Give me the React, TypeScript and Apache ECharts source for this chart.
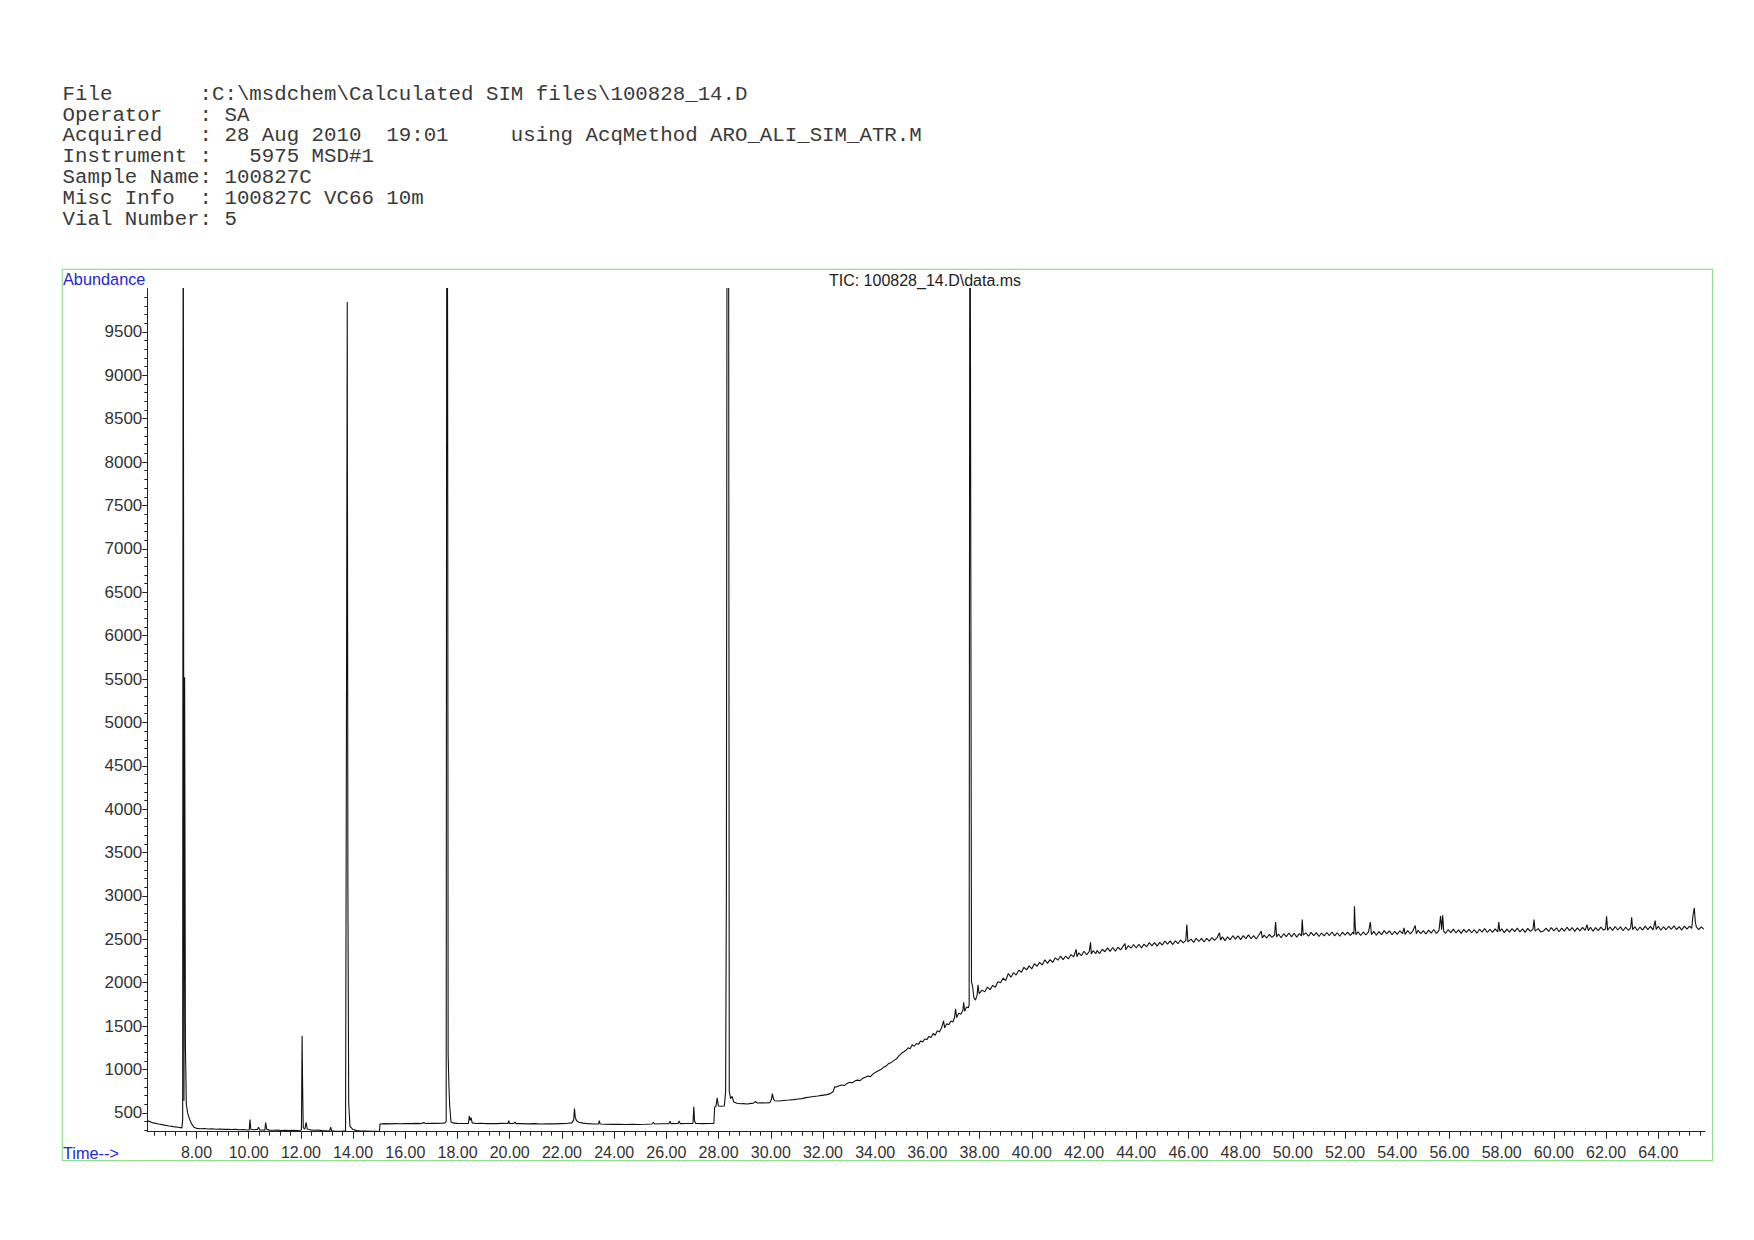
import React, { useEffect, useRef } from "react";
import * as echarts from "echarts";

// ---------- header text ----------
const headerLines: string[] = [
  "File       :C:\\msdchem\\Calculated SIM files\\100828_14.D",
  "Operator   : SA",
  "Acquired   : 28 Aug 2010  19:01     using AcqMethod ARO_ALI_SIM_ATR.M",
  "Instrument :   5975 MSD#1",
  "Sample Name: 100827C",
  "Misc Info  : 100827C VC66 10m",
  "Vial Number: 5",
];
const chartTitle = "TIC: 100828_14.D\\data.ms";
const yAxisName = "Abundance";
const xAxisName = "Time-->";

// ---------- axes ----------
const X_MIN = 6.115;
const X_MAX = 65.79;
const Y_MIN = 283.5;
const Y_MAX = 10000;
const majorTimes = [8, 10, 12, 14, 16, 18, 20, 22, 24, 26, 28, 30, 32, 34, 36, 38, 40, 42, 44, 46, 48, 50, 52, 54, 56, 58, 60, 62, 64];
const minorTimes = [
  6.4, 6.8, 7.2, 7.6, 8.4, 8.8, 9.2, 9.6, 10.4, 10.8, 11.2, 11.6, 12.4, 12.8, 13.2, 13.6, 14.4, 14.8, 15.2, 15.6,
  16.4, 16.8, 17.2, 17.6, 18.4, 18.8, 19.2, 19.6, 20.4, 20.8, 21.2, 21.6, 22.4, 22.8, 23.2, 23.6, 24.4, 24.8, 25.2, 25.6,
  26.4, 26.8, 27.2, 27.6, 28.4, 28.8, 29.2, 29.6, 30.4, 30.8, 31.2, 31.6, 32.4, 32.8, 33.2, 33.6, 34.4, 34.8, 35.2, 35.6,
  36.4, 36.8, 37.2, 37.6, 38.4, 38.8, 39.2, 39.6, 40.4, 40.8, 41.2, 41.6, 42.4, 42.8, 43.2, 43.6, 44.4, 44.8, 45.2, 45.6,
  46.4, 46.8, 47.2, 47.6, 48.4, 48.8, 49.2, 49.6, 50.4, 50.8, 51.2, 51.6, 52.4, 52.8, 53.2, 53.6, 54.4, 54.8, 55.2, 55.6,
  56.4, 56.8, 57.2, 57.6, 58.4, 58.8, 59.2, 59.6, 60.4, 60.8, 61.2, 61.6, 62.4, 62.8, 63.2, 63.6, 64.4, 64.8, 65.2, 65.6,
];
const majorAbundance = [500, 1000, 1500, 2000, 2500, 3000, 3500, 4000, 4500, 5000, 5500, 6000, 6500, 7000, 7500, 8000, 8500, 9000, 9500];
const minorAbundance = [
  300, 400, 600, 700, 800, 900, 1100, 1200, 1300, 1400, 1600, 1700, 1800, 1900, 2100, 2200, 2300, 2400,
  2600, 2700, 2800, 2900, 3100, 3200, 3300, 3400, 3600, 3700, 3800, 3900, 4100, 4200, 4300, 4400,
  4600, 4700, 4800, 4900, 5100, 5200, 5300, 5400, 5600, 5700, 5800, 5900, 6100, 6200, 6300, 6400,
  6600, 6700, 6800, 6900, 7100, 7200, 7300, 7400, 7600, 7700, 7800, 7900, 8100, 8200, 8300, 8400,
  8600, 8700, 8800, 8900, 9100, 9200, 9300, 9400, 9600, 9700, 9800, 9900,
];

// ---------- trace: [time (min), abundance] ----------
const traceEarly: [number, number][] = [
  [6.115, 411], [6.34, 385], [6.55, 372], [6.73, 362], [6.95, 350], [7.11, 342], [7.3, 335], [7.44, 328],
  [7.47, 420], [7.49, 13000], [7.52, 640], [7.545, 5520], [7.575, 1270], [7.61, 600], [7.66, 500], [7.72, 440],
  [7.8, 380], [7.9, 335], [8.0, 322], [8.15, 318], [8.3, 320], [8.45, 315], [8.6, 317], [8.75, 312], [8.9, 314],
  [9.05, 310], [9.2, 312], [9.35, 308], [9.5, 310], [9.65, 306], [9.8, 308], [9.95, 303], [10.02, 305],
  [10.05, 425], [10.08, 312], [10.2, 306], [10.33, 310], [10.38, 335], [10.42, 305], [10.55, 303], [10.62, 302],
  [10.65, 388], [10.69, 310], [10.8, 302], [10.95, 300], [11.1, 302], [11.25, 298], [11.4, 300], [11.55, 296],
  [11.7, 299], [11.85, 297], [11.98, 300], [12.02, 305], [12.045, 1390], [12.065, 815], [12.09, 330],
  [12.15, 312], [12.2, 392], [12.24, 315], [12.35, 305], [12.5, 300], [12.65, 303], [12.8, 296], [12.95, 294],
  [13.1, 292], [13.14, 336], [13.18, 292], [13.3, 290], [13.45, 289], [13.6, 290], [13.71, 292],
  [13.745, 5000], [13.775, 9845], [13.8, 3050], [13.83, 620], [13.88, 346], [13.98, 312], [14.14, 296],
  [14.3, 292], [14.5, 290], [14.7, 288], [14.9, 287], [15.01, 286],
];

const traceMid: [number, number][] = [
  [15.03, 373], [15.2, 376], [15.4, 374], [15.6, 377], [15.8, 375], [16.0, 378], [16.2, 376], [16.4, 379],
  [16.6, 377], [16.72, 388], [16.78, 378], [17.0, 379], [17.2, 380], [17.4, 381], [17.52, 385], [17.565, 400],
  [17.59, 13000], [17.62, 9500], [17.64, 1180], [17.67, 810], [17.7, 580], [17.75, 395], [17.85, 382],
  [18.0, 380], [18.2, 378], [18.42, 380], [18.45, 465], [18.48, 415], [18.52, 445], [18.56, 385], [18.7, 378],
  [18.9, 380], [19.1, 376], [19.3, 378], [19.5, 376], [19.7, 379], [19.93, 378], [19.96, 410], [19.99, 378],
  [20.15, 380], [20.2, 395], [20.24, 377], [20.45, 376], [20.7, 374], [20.95, 376], [21.2, 373], [21.45, 375],
  [21.7, 374], [21.95, 377], [22.2, 380], [22.38, 385], [22.45, 420], [22.48, 550], [22.51, 450], [22.56, 410],
  [22.65, 392], [22.8, 382], [23.0, 376], [23.2, 373], [23.4, 372], [23.43, 410], [23.46, 373], [23.7, 370],
  [23.95, 368], [24.2, 369], [24.45, 366], [24.7, 368], [24.95, 367], [25.2, 369], [25.45, 372], [25.5, 392],
  [25.55, 373], [25.8, 375], [26.1, 377], [26.14, 403], [26.18, 377], [26.45, 378], [26.49, 408], [26.53, 377],
  [26.8, 378], [27.02, 380], [27.05, 570], [27.08, 410], [27.12, 380], [27.4, 376], [27.6, 378], [27.82, 378],
  [27.85, 565], [27.9, 575], [27.95, 675], [27.99, 580], [28.1, 577], [28.22, 580], [28.27, 740], [28.3, 3100],
  [28.33, 13000], [28.38, 13000], [28.41, 750], [28.46, 665], [28.52, 690], [28.58, 625], [28.7, 612],
  [28.85, 605], [28.95, 607], [29.1, 603], [29.25, 610], [29.34, 612], [29.41, 632], [29.48, 614], [29.65, 616],
  [29.8, 615], [29.97, 619], [30.03, 660], [30.06, 722], [30.1, 665], [30.15, 640], [30.3, 638], [30.5, 643],
  [30.7, 648], [30.87, 653], [31.05, 660], [31.2, 665], [31.35, 676], [31.51, 684], [31.65, 690], [31.8, 695],
  [31.95, 702], [32.15, 711], [32.28, 722], [32.4, 750], [32.45, 802],
];

const traceRamp: [number, number][] = [
  [32.52, 798], [32.62, 812], [32.72, 822], [32.82, 815], [32.92, 840], [33.02, 853], [33.12, 846], [33.22, 868],
  [33.32, 878], [33.42, 872], [33.52, 898], [33.62, 910], [33.72, 925], [33.82, 918], [33.92, 950], [34.02, 968],
  [34.12, 985], [34.22, 1000], [34.32, 1025], [34.42, 1040], [34.52, 1070], [34.62, 1082], [34.72, 1105],
  [34.82, 1125], [34.92, 1160], [35.02, 1190], [35.1, 1205], [35.18, 1222], [35.26, 1250], [35.34, 1238],
  [35.42, 1285], [35.5, 1268], [35.58, 1300], [35.66, 1290], [35.74, 1330], [35.82, 1318], [35.9, 1352],
  [35.98, 1345], [36.06, 1382], [36.14, 1370], [36.22, 1415], [36.3, 1395], [36.38, 1448], [36.46, 1432],
  [36.54, 1478], [36.62, 1560], [36.66, 1480], [36.74, 1528], [36.82, 1515], [36.9, 1560], [36.98, 1548],
  [37.04, 1600], [37.08, 1700], [37.12, 1598], [37.2, 1648], [37.28, 1636], [37.36, 1680], [37.39, 1775],
  [37.43, 1672], [37.5, 1720], [37.57, 1712], [37.6, 1745], [37.63, 13000], [37.66, 7450], [37.69, 2010],
  [37.73, 1960], [37.78, 1830], [37.84, 1800], [37.9, 1852], [37.94, 1975], [37.98, 1875],
];

const tracePlateau: [number, number][] = [
  [38.1, 1915], [38.2, 1895], [38.3, 1950], [38.4, 1920], [38.5, 1970], [38.6, 1948], [38.7, 2011], [38.8, 1999],
  [38.9, 2052], [39.0, 2025], [39.1, 2107], [39.2, 2064], [39.3, 2116], [39.4, 2088], [39.5, 2145], [39.6, 2121],
  [39.7, 2177], [39.8, 2148], [39.9, 2194], [40.0, 2160], [40.1, 2220], [40.2, 2190], [40.3, 2235], [40.4, 2205],
  [40.5, 2265], [40.6, 2223], [40.7, 2266], [40.8, 2234], [40.9, 2287], [41.0, 2260], [41.1, 2306], [41.2, 2267],
  [41.3, 2308], [41.4, 2274], [41.5, 2325], [41.6, 2297], [41.7, 2385], [41.73, 2300], [41.8, 2345], [41.9, 2311],
  [42.0, 2363], [42.1, 2322], [42.2, 2360], [42.25, 2466], [42.28, 2330], [42.35, 2370], [42.45, 2334],
  [42.5, 2371], [42.6, 2336], [42.7, 2386], [42.8, 2357], [42.9, 2402], [43.0, 2362], [43.1, 2406], [43.2, 2365],
  [43.3, 2409], [43.4, 2378], [43.5, 2422], [43.57, 2450], [43.6, 2381], [43.7, 2429], [43.8, 2398], [43.9, 2441],
  [44.0, 2400], [44.1, 2443], [44.2, 2402], [44.3, 2445], [44.4, 2414], [44.5, 2462], [44.6, 2425], [44.7, 2463],
  [44.8, 2422], [44.9, 2465], [45.0, 2433], [45.1, 2481], [45.2, 2444], [45.3, 2482], [45.4, 2440], [45.5, 2483],
  [45.6, 2450], [45.7, 2493], [45.8, 2460], [45.9, 2488], [45.94, 2670], [45.98, 2470], [46.1, 2502],
  [46.2, 2465], [46.3, 2512], [46.4, 2475], [46.5, 2512], [46.6, 2469], [46.7, 2511], [46.8, 2479], [46.9, 2521],
  [47.0, 2488], [47.1, 2520], [47.19, 2575], [47.23, 2490], [47.3, 2529], [47.4, 2486], [47.5, 2528],
  [47.6, 2495], [47.7, 2542], [47.8, 2503], [47.9, 2540], [48.0, 2497], [48.1, 2543], [48.2, 2509], [48.3, 2551],
  [48.4, 2507], [48.5, 2543], [48.6, 2504], [48.7, 2551], [48.79, 2595], [48.83, 2515], [48.9, 2549],
  [49.0, 2515], [49.1, 2557], [49.2, 2523], [49.3, 2550], [49.34, 2700], [49.38, 2528], [49.45, 2562],
  [49.55, 2518], [49.65, 2565], [49.75, 2531], [49.85, 2573], [49.95, 2529], [50.05, 2570], [50.15, 2526],
  [50.25, 2567], [50.33, 2540], [50.36, 2728], [50.4, 2548], [50.5, 2575], [50.6, 2536], [50.7, 2581],
  [50.8, 2542], [50.9, 2577], [51.0, 2533], [51.1, 2573], [51.2, 2539], [51.3, 2579], [51.4, 2544], [51.5, 2585],
  [51.6, 2540], [51.7, 2576], [51.8, 2536], [51.9, 2582], [52.0, 2548],
];

const traceLate: [number, number][] = [
  [52.1, 2584], [52.2, 2545], [52.3, 2581], [52.34, 2560], [52.36, 2880], [52.39, 2650], [52.42, 2555],
  [52.5, 2588], [52.6, 2544], [52.7, 2585], [52.8, 2550], [52.9, 2586], [52.97, 2700], [53.01, 2555],
  [53.1, 2592], [53.2, 2548], [53.3, 2589], [53.4, 2555], [53.5, 2601], [53.6, 2562], [53.7, 2597], [53.8, 2553],
  [53.9, 2593], [54.0, 2558], [54.1, 2599], [54.2, 2565], [54.26, 2632], [54.3, 2556], [54.4, 2601], [54.5, 2562],
  [54.6, 2598], [54.69, 2659], [54.73, 2565], [54.8, 2604], [54.9, 2565], [55.0, 2600], [55.1, 2561],
  [55.2, 2606], [55.3, 2572], [55.4, 2613], [55.5, 2568], [55.6, 2604], [55.66, 2770], [55.7, 2610],
  [55.74, 2778], [55.78, 2595], [55.85, 2570], [55.95, 2611], [56.05, 2577], [56.15, 2618], [56.25, 2573],
  [56.35, 2609], [56.45, 2569], [56.55, 2615], [56.65, 2580], [56.75, 2615], [56.85, 2576], [56.95, 2611],
  [57.05, 2571], [57.15, 2617], [57.25, 2583], [57.35, 2623], [57.45, 2579], [57.55, 2614], [57.65, 2580],
  [57.75, 2621], [57.85, 2586], [57.89, 2700], [57.93, 2590], [58.0, 2622], [58.1, 2577], [58.2, 2618],
  [58.3, 2583], [58.4, 2624], [58.5, 2589], [58.6, 2629], [58.7, 2585], [58.8, 2620], [58.9, 2581], [59.0, 2626],
  [59.1, 2592], [59.2, 2617], [59.24, 2728], [59.28, 2595], [59.4, 2623], [59.5, 2584], [59.6, 2595],
  [59.7, 2630], [59.8, 2591], [59.9, 2636], [60.0, 2597], [60.1, 2633], [60.2, 2588], [60.3, 2629], [60.4, 2594],
  [60.5, 2640], [60.6, 2601], [60.7, 2636], [60.8, 2592], [60.9, 2632], [61.0, 2598], [61.1, 2638], [61.2, 2604],
  [61.27, 2670], [61.32, 2600], [61.4, 2640], [61.5, 2595], [61.6, 2635], [61.7, 2601], [61.8, 2641],
  [61.9, 2607], [61.98, 2620], [62.02, 2766], [62.06, 2605], [62.15, 2642], [62.25, 2603], [62.35, 2648],
  [62.45, 2608], [62.55, 2644], [62.65, 2599], [62.75, 2640], [62.85, 2605], [62.94, 2630], [62.98, 2754],
  [63.02, 2610], [63.1, 2646], [63.2, 2602], [63.3, 2642], [63.4, 2607], [63.5, 2653], [63.6, 2613], [63.7, 2649],
  [63.8, 2609], [63.88, 2716], [63.92, 2615], [64.0, 2650], [64.1, 2605], [64.2, 2645], [64.3, 2611], [64.4, 2651],
  [64.5, 2616], [64.6, 2656], [64.7, 2612], [64.8, 2647], [64.9, 2607], [65.0, 2652], [65.1, 2617], [65.2, 2652],
  [65.28, 2625], [65.33, 2775], [65.38, 2862], [65.42, 2700], [65.46, 2640], [65.55, 2612], [65.65, 2645],
  [65.74, 2618],
];

// ---------- layout ----------
const PAGE_W = 1754;
const PAGE_H = 1240;
const GRID_LEFT = 147.3;
const GRID_TOP = 288.5;
const GRID_W = 1557.7;
const GRID_H = 843.2;
const HEADER_X = 62.6;
const HEADER_Y0 = 94.2;
const HEADER_STEP = 20.85;
const CHAR_W = 12.45;

function segments(line: string) {
  const out: { text: string; col: number }[] = [];
  const re = /\S+(?: \S+)*/g;
  let m: RegExpExecArray | null;
  while ((m = re.exec(line))) out.push({ text: m[0], col: m.index });
  return out;
}

export default function App() {
  const ref = useRef<HTMLDivElement>(null);

  useEffect(() => {
    if (!ref.current) return;
    const chart = echarts.init(ref.current, null, { renderer: "svg" });
    const data = [...traceEarly, ...traceMid, ...traceRamp, ...tracePlateau, ...traceLate];

    const graphic: any[] = [
      {
        type: "rect",
        shape: { x: 62.3, y: 269.3, width: 1650.3, height: 891.4 },
        style: { fill: "none", stroke: "#93e093", lineWidth: 1.2 },
        silent: true,
      },
      {
        type: "text",
        x: 925,
        y: 280,
        style: {
          text: chartTitle,
          fontSize: 16,
          fontFamily: "Liberation Sans",
          fill: "#222",
          align: "center",
          verticalAlign: "middle",
        },
      },
      {
        type: "text",
        x: 63,
        y: 278.5,
        style: {
          text: yAxisName,
          fontSize: 16.3,
          fontFamily: "Liberation Sans",
          fill: "#2525dd",
          align: "left",
          verticalAlign: "middle",
        },
      },
      {
        type: "text",
        x: 63,
        y: 1153,
        style: {
          text: xAxisName,
          fontSize: 16.3,
          fontFamily: "Liberation Sans",
          fill: "#2525dd",
          align: "left",
          verticalAlign: "middle",
        },
      },
    ];
    headerLines.forEach((line, i) => {
      segments(line).forEach((seg) => {
        graphic.push({
          type: "text",
          x: HEADER_X + seg.col * CHAR_W,
          y: HEADER_Y0 + i * HEADER_STEP,
          style: {
            text: seg.text,
            fontSize: 20.75,
            fontFamily: "Liberation Mono",
            fill: "#3a3a3a",
            align: "left",
            verticalAlign: "middle",
          },
        });
      });
    });

    const axisColor = "#222";
    const labelFont = { fontFamily: "Liberation Sans", color: "#333" };

    chart.setOption({
      animation: false,
      backgroundColor: "#ffffff",
      grid: { left: GRID_LEFT, top: GRID_TOP, width: GRID_W, height: GRID_H, containLabel: false },
      xAxis: [
        {
          type: "value",
          min: X_MIN,
          max: X_MAX,
          position: "bottom",
          axisLine: { show: true, onZero: false, lineStyle: { color: axisColor, width: 1 } },
          axisTick: { show: true, customValues: majorTimes, length: 7, lineStyle: { color: axisColor, width: 1 } },
          axisLabel: {
            show: true,
            customValues: majorTimes,
            formatter: (v: number) => v.toFixed(2),
            margin: 13,
            fontSize: 16,
            ...labelFont,
          },
          splitLine: { show: false },
        },
        {
          type: "value",
          min: X_MIN,
          max: X_MAX,
          position: "bottom",
          axisLine: { show: false, onZero: false },
          axisTick: { show: true, customValues: minorTimes, length: 4, lineStyle: { color: axisColor, width: 1 } },
          axisLabel: { show: false },
          splitLine: { show: false },
        },
      ],
      yAxis: [
        {
          type: "value",
          min: Y_MIN,
          max: Y_MAX,
          position: "left",
          axisLine: { show: true, onZero: false, lineStyle: { color: axisColor, width: 1 } },
          axisTick: { show: true, customValues: majorAbundance, length: 5, lineStyle: { color: axisColor, width: 1 } },
          axisLabel: {
            show: true,
            customValues: majorAbundance,
            formatter: (v: number) => String(v),
            margin: 5,
            fontSize: 17,
            ...labelFont,
          },
          splitLine: { show: false },
        },
        {
          type: "value",
          min: Y_MIN,
          max: Y_MAX,
          position: "left",
          axisLine: { show: false, onZero: false },
          axisTick: { show: true, customValues: minorAbundance, length: 3, lineStyle: { color: axisColor, width: 1 } },
          axisLabel: { show: false },
          splitLine: { show: false },
        },
      ],
      series: [
        {
          type: "line",
          name: "TIC",
          xAxisIndex: 0,
          yAxisIndex: 0,
          data,
          showSymbol: false,
          symbol: "none",
          clip: true,
          lineStyle: { color: "#111", width: 1.1 },
        },
      ],
      graphic,
    });

    return () => chart.dispose();
  }, []);

  return (
    <div
      ref={ref}
      style={{ position: "absolute", left: 0, top: 0, width: PAGE_W, height: PAGE_H, background: "#fff" }}
    />
  );
}
